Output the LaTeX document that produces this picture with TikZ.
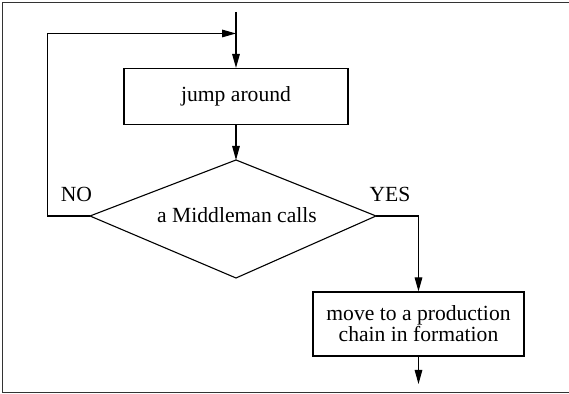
\documentclass[tikz,border=0pt]{standalone}
\usepackage{fontspec}
\setmainfont{Liberation Serif}
\usetikzlibrary{arrows.meta}
\begin{document}
\begin{tikzpicture}[x=0.5pt,y=-0.5pt,
  line width=0.55pt,
  flow/.style={-{Triangle[length=7pt,width=3.8pt]}},
  procbox/.style={draw, align=center, inner sep=0pt},
  lbl/.style={inner sep=0pt, anchor=base},
  every node/.style={font=\fontsize{10.8}{10.6}\selectfont}]
  \useasboundingbox (0,0) rectangle (569,394);
  % outer frame (open at the right)
  \draw[line width=0.6pt, black!80] (569,2.5) -- (2.5,2.5) -- (2.5,392.5) -- (569,392.5);

  % entry and loop junction
  \coordinate (entry) at (236,12);
  \coordinate (join) at (236,33.5);
  \coordinate (loopTop) at (47.5,33.5);

  % process boxes (sizes in pt: half the drawing units)
  \node[procbox, minimum width=112pt, minimum height=28pt] (jump) at (236,96.5) {jump around};
  \node[procbox, minimum width=105.5pt, minimum height=32pt] (move) at (418.5,324) {move to a production\\chain in formation};

  % decision diamond
  \coordinate (dTop) at (236,160);
  \coordinate (dLeft) at (90,216);
  \coordinate (dRight) at (376,216);
  \coordinate (dBot) at (236,278);
  \draw (dTop) -- (dRight) -- (dBot) -- (dLeft) -- cycle;
  \node[inner sep=0pt] (dec) at (237,215) {a Middleman calls};

  % branch labels
  \node[lbl] (no) at (76.5,202) {NO};
  \node[lbl] (yes) at (390,202) {YES};

  % connectors
  \coordinate (yesCorner) at (move.north |- dRight);
  \coordinate (exit) at (418.5,384);
  \draw (entry) -- (join);
  \draw[flow] (join) -- (jump.north);
  \draw[flow] (jump.south) -- (dTop);
  \draw[flow] (dLeft) -| (loopTop) -- (join);
  \draw[flow] (dRight) -- (yesCorner) -- (move.north);
  \draw[flow] (move.south) -- (exit);
\end{tikzpicture}
\end{document}
